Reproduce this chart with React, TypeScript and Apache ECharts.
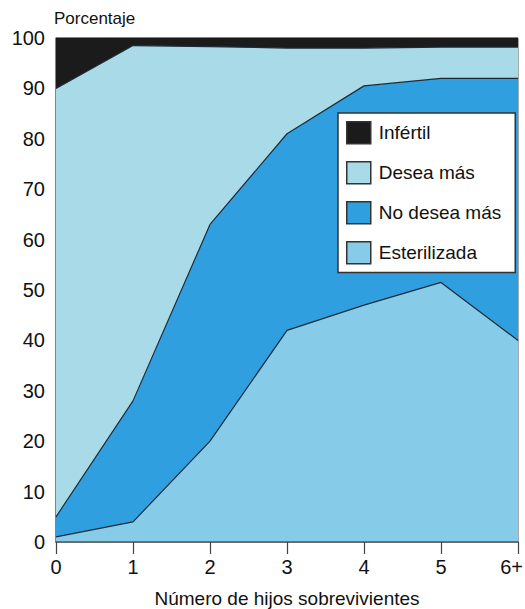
import React, { useEffect, useRef } from "react";
import * as echarts from "echarts";

const categories = ["0", "1", "2", "3", "4", "5", "6+"];
const yTicks = [0, 10, 20, 30, 40, 50, 60, 70, 80, 90, 100];
// Shares (percent) per number of surviving children, stacked bottom to top
const esterilizada = [1, 4, 20, 42, 47, 51.5, 40];
const noDeseaMas = [4, 24, 43, 39, 43.5, 40.5, 52];
const deseaMas = [85, 70.5, 35.3, 17, 7.5, 6.2, 6.2];
const infertil = [10, 1.5, 1.7, 2, 2, 1.8, 1.8];

const seriesNames = ["Esterilizada", "No desea más", "Desea más", "Infértil"];
const legendOrder = ["Infértil", "Desea más", "No desea más", "Esterilizada"];

export default function App() {
  const ref = useRef<HTMLDivElement>(null);
  useEffect(() => {
    document.body.style.margin = "0";
    const chart = echarts.init(ref.current!, null, { renderer: "svg" });
    const font = "'Liberation Sans', Arial, Helvetica, sans-serif";
    const fills = ["#86cbe8", "#2f9fdf", "#a9dae7", "#1b1b1b"];
    const datas = [esterilizada, noDeseaMas, deseaMas, infertil];
    const last = categories.length - 1;
    chart.setOption({
      animation: false,
      textStyle: { fontFamily: font },
      grid: {
        left: 56,
        right: 7,
        top: 38,
        bottom: 67,
        show: true,
        borderColor: "#555",
        borderWidth: 1,
        outerBoundsMode: "none",
        containLabel: false,
      },
      legend: {
        data: legendOrder,
        orient: "vertical",
        left: 338,
        top: 113,
        padding: [8, 14, 8, 8],
        itemWidth: 24,
        itemHeight: 22,
        itemGap: 16.5,
        icon: "rect",
        backgroundColor: "#ffffff",
        borderColor: "#333",
        borderWidth: 1.5,
        selectedMode: false,
        itemStyle: { borderColor: "#333", borderWidth: 1.5 },
        textStyle: {
          fontSize: 19,
          lineHeight: 22,
          color: "#111",
          fontFamily: font,
          padding: [0, 0, 0, 3],
        },
      },
      xAxis: {
        type: "category",
        data: categories.map((c, i) =>
          i === last ? { value: c, textStyle: { align: "right", padding: [0, -5, 0, 0] } } : c
        ),
        boundaryGap: false,
        name: "Número de hijos sobrevivientes",
        nameLocation: "middle",
        nameGap: 47,
        nameTextStyle: { fontSize: 19, color: "#111" },
        axisLine: { lineStyle: { color: "#555", width: 1.5 } },
        axisTick: { show: true, length: 12, lineStyle: { color: "#444", width: 1.2 } },
        axisLabel: { fontSize: 20, color: "#111", margin: 15 },
        splitLine: { show: false },
        z: 10,
      },
      yAxis: {
        type: "value",
        min: 0,
        max: 100,
        interval: 10,
        name: "Porcentaje",
        nameLocation: "end",
        nameGap: 11,
        nameTextStyle: { fontSize: 17, color: "#111", align: "left", padding: [0, 0, 0, -2] },
        axisLine: { show: true, lineStyle: { color: "#777", width: 1.5 } },
        axisTick: { show: false },
        axisLabel: {
          fontSize: 20,
          color: "#111",
          margin: 11,
          formatter: (v: number) => (yTicks.includes(v) ? String(v) : ""),
        },
        splitLine: { show: false },
      },
      series: seriesNames.map((name, i) => ({
        name,
        type: "line",
        stack: "total",
        data: datas[i],
        symbol: "none",
        showSymbol: false,
        silent: true,
        color: fills[i],
        itemStyle: { color: fills[i] },
        lineStyle: { color: i === 3 ? "#1b1b1b" : "#1d2a38", width: 1.2 },
        areaStyle: { color: fills[i], opacity: 1 },
        emphasis: { disabled: true },
      })),
    });
    return () => chart.dispose();
  }, []);
  return <div ref={ref} style={{ width: 525, height: 609 }} />;
}
